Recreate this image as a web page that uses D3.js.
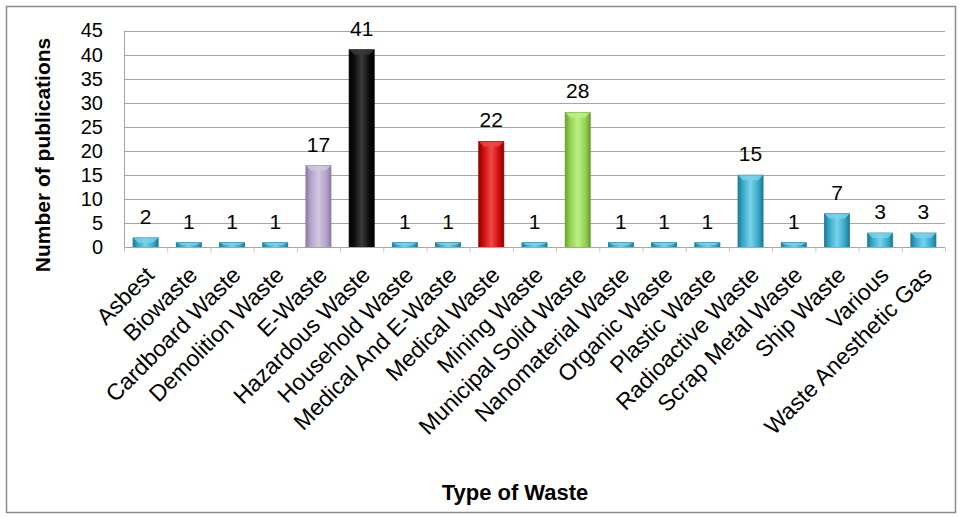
<!DOCTYPE html>
<html>
<head>
<meta charset="utf-8">
<script src="https://cdn.jsdelivr.net/npm/d3@7"></script>
<style>
  html, body { margin: 0; padding: 0; background: #fff; }
  svg text { font-family: Arial, "Liberation Sans", sans-serif; }
</style>
</head>
<body>
<svg id="chart" width="961" height="517"></svg>
<script>
// Publications per type of waste
const categories = [
  "Asbest", "Biowaste", "Cardboard Waste", "Demolition Waste", "E-Waste",
  "Hazardous Waste", "Household Waste", "Medical And E-Waste", "Medical Waste",
  "Mining Waste", "Municipal Solid Waste", "Nanomaterial Waste", "Organic Waste",
  "Plastic Waste", "Radioactive Waste", "Scrap Metal Waste", "Ship Waste",
  "Various", "Waste Anesthetic Gas"
];
const publications = [2, 1, 1, 1, 17, 41, 1, 1, 22, 1, 28, 1, 1, 1, 15, 1, 7, 3, 3];
const barColors = [
  "teal", "teal", "teal", "teal", "purple", "black", "teal", "teal", "red",
  "teal", "green", "teal", "teal", "teal", "teal", "teal", "teal", "teal", "teal"
];
const yTicks = [0, 5, 10, 15, 20, 25, 30, 35, 40, 45];

const palette = {
  teal:   { base: "#36a6c6", light: "#7ad3ec", dark: "#1d7a94" },
  purple: { base: "#b3a2c7", light: "#d3c7e0", dark: "#8c7aa3" },
  black:  { base: "#0a0a0a", light: "#3a3a3a", dark: "#000000" },
  red:    { base: "#cc0a0a", light: "#f04848", dark: "#8e0000" },
  green:  { base: "#92d050", light: "#bdf085", dark: "#6a9e31" }
};

const svg = d3.select("#chart");
const plotL = 124, plotR = 945, plotT = 30.5, plotB = 247.5;

// outer frame
svg.append("rect")
  .attr("x", 6.5).attr("y", 6.5).attr("width", 949).attr("height", 506)
  .attr("fill", "#fff").attr("stroke", "#8c8c8c").attr("stroke-width", 1.5);

const defs = svg.append("defs");
Object.entries(palette).forEach(([k, c]) => {
  const g = defs.append("linearGradient").attr("id", "g-" + k)
    .attr("x1", "0").attr("x2", "1").attr("y1", "0").attr("y2", "0");
  g.append("stop").attr("offset", "0%").attr("stop-color", c.dark);
  g.append("stop").attr("offset", "18%").attr("stop-color", c.base);
  g.append("stop").attr("offset", "50%").attr("stop-color", c.light);
  g.append("stop").attr("offset", "82%").attr("stop-color", c.base);
  g.append("stop").attr("offset", "100%").attr("stop-color", c.dark);
});

const x = d3.scaleBand().domain(categories).range([plotL, plotR]).paddingInner(0.42).paddingOuter(0.21);
const y = d3.scaleLinear().domain([0, 45]).range([plotB, plotT]);

// gridlines
svg.append("g").selectAll("line").data(yTicks.filter(d => d > 0)).join("line")
  .attr("x1", plotL).attr("x2", plotR)
  .attr("y1", d => Math.round(y(d)) + 0.5).attr("y2", d => Math.round(y(d)) + 0.5)
  .attr("stroke", "#a6a6a6").attr("stroke-width", 1);

// left edge of plot
svg.append("line")
  .attr("x1", plotL + 0.5).attr("x2", plotL + 0.5)
  .attr("y1", y(45)).attr("y2", plotB)
  .attr("stroke", "#a6a6a6");

// y axis tick labels
const yAxis = d3.axisLeft(y).tickValues(yTicks).tickSize(0).tickPadding(0);
const gy = svg.append("g").attr("transform", `translate(${plotL - 21},0)`).call(yAxis);
gy.select(".domain").remove();
gy.selectAll("text").attr("font-size", 20).attr("fill", "#000")
  .attr("font-family", "Arial, 'Liberation Sans', sans-serif");

// bars
const step = x.step();
const bars = svg.append("g").selectAll("g").data(categories).join("g");
bars.append("rect")
  .attr("x", d => x(d)).attr("width", x.bandwidth())
  .attr("y", (d, i) => y(publications[i]))
  .attr("height", (d, i) => plotB - y(publications[i]))
  .attr("fill", (d, i) => `url(#g-${barColors[i]})`)
  .attr("stroke", (d, i) => palette[barColors[i]].dark).attr("stroke-width", 0.8);
// top bevel
bars.append("path")
  .attr("d", (d, i) => {
    const x0 = x(d), x1 = x0 + x.bandwidth(), t = y(publications[i]);
    const h = Math.min(5, (plotB - t) / 2);
    return `M${x0},${t}L${x1},${t}L${x1 - 5},${t + h}L${x0 + 5},${t + h}Z`;
  })
  .attr("fill", (d, i) => palette[barColors[i]].light).attr("opacity", 0.8);

// x axis baseline with small ticks
const xAxis = d3.axisBottom(x).tickSize(0).tickFormat("");
const gx = svg.append("g").attr("transform", `translate(0,${plotB})`).call(xAxis);
gx.select(".domain").attr("stroke", "#a6a6a6").attr("d", `M${plotL},0H${plotR}`);
svg.append("g").selectAll("line").data(d3.range(categories.length + 1)).join("line")
  .attr("x1", i => plotL + i * step + 0.5).attr("x2", i => plotL + i * step + 0.5)
  .attr("y1", plotB).attr("y2", plotB + 5)
  .attr("stroke", "#c8c8c8");

// value labels
svg.append("g").selectAll("text").data(categories).join("text")
  .attr("x", d => x(d) + x.bandwidth() / 2)
  .attr("y", (d, i) => y(publications[i]) - 14)
  .attr("text-anchor", "middle").attr("font-size", 21).attr("fill", "#000")
  .text((d, i) => publications[i]);

// category labels
svg.append("g").selectAll("text").data(categories).join("text")
  .attr("transform", d => `translate(${x(d) + x.bandwidth() / 2 + 10},${plotB + 29}) rotate(-45)`)
  .attr("text-anchor", "end").attr("font-size", 23).attr("fill", "#000")
  .text(d => d);

// axis titles
svg.append("text")
  .attr("transform", `translate(50,155) rotate(-90)`)
  .attr("text-anchor", "middle").attr("font-size", 21).attr("font-weight", "bold")
  .text("Number of publications");
svg.append("text")
  .attr("x", 515).attr("y", 500)
  .attr("text-anchor", "middle").attr("font-size", 22).attr("font-weight", "bold")
  .text("Type of Waste");
</script>
</body>
</html>
